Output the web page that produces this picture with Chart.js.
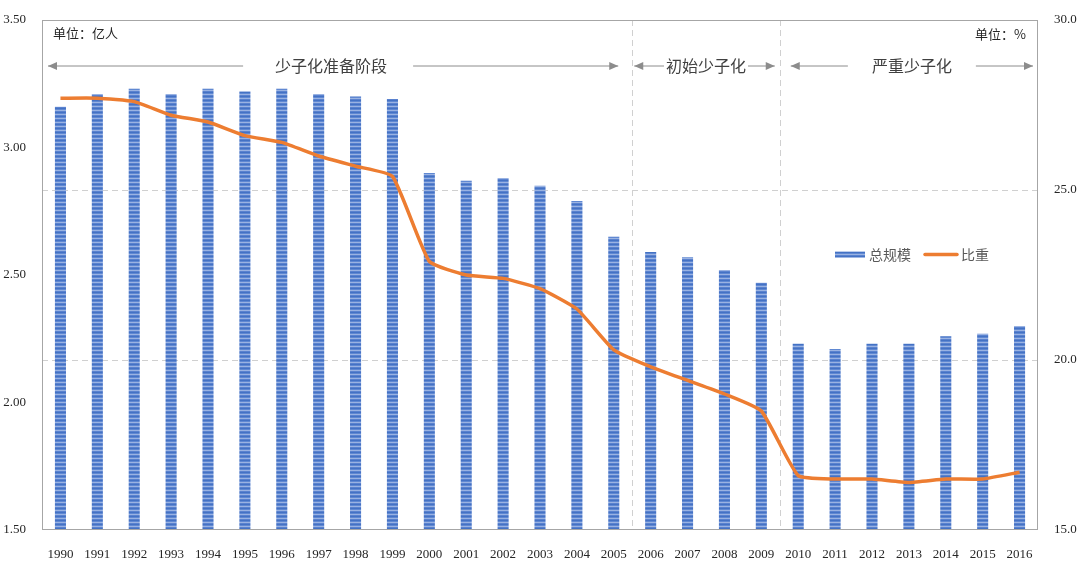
<!DOCTYPE html>
<html>
<head>
<meta charset="utf-8">
<script src="https://cdn.jsdelivr.net/npm/chart.js@4"></script>
<style>
  html, body { margin: 0; padding: 0; background: #fff; }
  #wrap { width: 1080px; height: 580px; }
</style>
</head>
<body>
<div id="wrap"><canvas id="chart" width="1080" height="580"></canvas></div>
<script>
const years = ['1990','1991','1992','1993','1994','1995','1996','1997','1998','1999',
  '2000','2001','2002','2003','2004','2005','2006','2007','2008','2009',
  '2010','2011','2012','2013','2014','2015','2016'];
const totalScale = [3.16, 3.21, 3.23, 3.21, 3.23, 3.22, 3.23, 3.21, 3.20, 3.19,
  2.90, 2.87, 2.88, 2.85, 2.79, 2.65, 2.59, 2.57, 2.52, 2.47,
  2.23, 2.21, 2.23, 2.23, 2.26, 2.27, 2.30];
const share = [27.7, 27.7, 27.6, 27.2, 27.0, 26.6, 26.4, 26.0, 25.7, 25.4,
  22.9, 22.5, 22.4, 22.1, 21.5, 20.3, 19.8, 19.4, 19.0, 18.5,
  16.6, 16.5, 16.5, 16.4, 16.5, 16.5, 16.7];
const leftTicks = [1.5, 2.0, 2.5, 3.0, 3.5];
const rightTicks = [15, 20, 25, 30];
// phase labels: [label, first year index, last year index]
const phases = [['少子化准备阶段', 0, 15], ['初始少子化', 16, 19], ['严重少子化', 20, 26]];

const serif = '"Liberation Serif", "DejaVu Serif", serif';
const cjk = '"Noto Sans CJK SC", "Noto Sans", sans-serif';

function stripePattern() {
    const c = document.createElement('canvas');
    c.width = 4; c.height = 4;
    const g = c.getContext('2d');
    const rows = ['#4472C4', '#6088d2', '#9ab3e2', '#5a82cf'];
    rows.forEach((col, i) => { g.fillStyle = col; g.fillRect(0, i, 4, 1); });
    return g.createPattern(c, 'repeat');
}

function arrow(ctx, x1, x2, y, headAt) {
    ctx.beginPath();
    ctx.moveTo(x1, y);
    ctx.lineTo(x2, y);
    ctx.stroke();
    const hx = headAt === 'left' ? x1 : x2;
    const d = headAt === 'left' ? 1 : -1;
    ctx.beginPath();
    ctx.moveTo(hx, y);
    ctx.lineTo(hx + d * 9, y - 4);
    ctx.lineTo(hx + d * 9, y + 4);
    ctx.closePath();
    ctx.fill();
}

const decorPlugin = {
    id: 'decor',
    beforeDatasetsDraw(chart) {
        const { ctx, chartArea: a, scales } = chart;
        ctx.save();
        // dashed grid lines from right axis
        ctx.strokeStyle = '#d0d0d0';
        ctx.lineWidth = 1;
        ctx.setLineDash([6, 4]);
        [20, 25].forEach(v => {
            const y = Math.round(scales.y2.getPixelForValue(v)) + 0.5;
            ctx.beginPath(); ctx.moveTo(a.left, y); ctx.lineTo(a.right, y); ctx.stroke();
        });
        // phase separators
        [15, 19].forEach(i => {
            const x = Math.round((scales.x.getPixelForValue(i) + scales.x.getPixelForValue(i + 1)) / 2) + 0.5;
            ctx.beginPath(); ctx.moveTo(x, a.top); ctx.lineTo(x, a.bottom); ctx.stroke();
        });
        ctx.restore();
    },
    afterDatasetsDraw(chart) {
        const { ctx, chartArea: a, scales } = chart;
        ctx.save();
        // plot box
        ctx.strokeStyle = '#a6a6a6';
        ctx.lineWidth = 1;
        ctx.strokeRect(a.left + 0.5, a.top + 0.5, a.right - a.left - 1, a.bottom - a.top - 1);

        // unit labels
        ctx.fillStyle = '#262626';
        ctx.font = '13px ' + cjk;
        ctx.textBaseline = 'middle';
        ctx.textAlign = 'left';
        ctx.fillText('单位：亿人', a.left + 11, a.top + 13);
        ctx.textAlign = 'right';
        ctx.fillText('单位：%', a.right - 12, a.top + 14);

        // phase labels with arrows
        const edge = i => (scales.x.getPixelForValue(i) + scales.x.getPixelForValue(i + 1)) / 2;
        const bounds = [a.left, edge(15), edge(19), a.right];
        const gaps = [[6, 14, 32, 26], [2, 5, 2, 2], [11, 5, 24, 24]];
        const ay = a.top + 46;
        ctx.font = '16px ' + cjk;
        ctx.textAlign = 'center';
        phases.forEach((p, k) => {
            const l = bounds[k], r = bounds[k + 1];
            const cx = (l + r) / 2 + (k === 0 ? -6 : k === 2 ? 3 : 0);
            const w = ctx.measureText(p[0]).width;
            ctx.fillStyle = '#404040';
            ctx.fillText(p[0], cx, ay);
            ctx.strokeStyle = '#8c8c8c';
            ctx.fillStyle = '#8c8c8c';
            ctx.lineWidth = 1;
            const g = gaps[k];
            arrow(ctx, l + g[0], cx - w / 2 - g[2], ay, 'left');
            arrow(ctx, cx + w / 2 + g[3], r - g[1], ay, 'right');
        });

        // legend
        const ly = scales.y2.getPixelForValue(23.1);
        const lx = a.left + 793;
        ctx.fillStyle = stripePattern();
        ctx.fillRect(lx, ly - 3, 30, 6);
        ctx.font = '14px ' + cjk;
        ctx.textAlign = 'left';
        ctx.fillStyle = '#595959';
        ctx.fillText('总规模', lx + 34, ly);
        ctx.strokeStyle = '#ED7D31';
        ctx.lineWidth = 3.5;
        ctx.lineCap = 'round';
        ctx.beginPath(); ctx.moveTo(lx + 90, ly); ctx.lineTo(lx + 122, ly); ctx.stroke();
        ctx.fillText('比重', lx + 126, ly);
        ctx.restore();
    }
};

const ctx = document.getElementById('chart').getContext('2d');
new Chart(ctx, {
    type: 'bar',
    data: {
        labels: years,
        datasets: [{
            type: 'line',
            label: '比重',
            data: share,
            yAxisID: 'y2',
            borderColor: '#ED7D31',
            borderWidth: 3.5,
            pointRadius: 0,
            tension: 0.15,
            order: 0
        }, {
            label: '总规模',
            data: totalScale,
            yAxisID: 'y',
            backgroundColor: stripePattern(),
            barPercentage: 0.3,
            categoryPercentage: 1,
            order: 1
        }]
    },
    plugins: [decorPlugin],
    options: {
        responsive: false,
        animation: false,
        layout: { padding: { top: 20, left: 0, right: 0, bottom: 0 } },
        plugins: { legend: { display: false }, tooltip: { enabled: false } },
        scales: {
            x: {
                offset: true,
                grid: { display: false },
                border: { display: false },
                ticks: { color: '#262626', font: { family: serif, size: 13 }, padding: 9, maxRotation: 0, autoSkip: false },
                afterFit: s => { s.height = 50; }
            },
            y: {
                position: 'left',
                min: 1.5, max: 3.5,
                grid: { display: false },
                border: { display: false },
                afterBuildTicks: s => { s.ticks = leftTicks.map(v => ({ value: v })); },
                ticks: { color: '#262626', font: { family: serif, size: 13 }, padding: 8, callback: v => v.toFixed(2) },
                afterFit: s => { s.width = 42; }
            },
            y2: {
                position: 'right',
                min: 15, max: 30,
                grid: { display: false },
                border: { display: false },
                afterBuildTicks: s => { s.ticks = rightTicks.map(v => ({ value: v })); },
                ticks: { color: '#262626', font: { family: serif, size: 13 }, padding: 8, callback: v => v.toFixed(1) },
                afterFit: s => { s.width = 42; }
            }
        }
    }
});
</script>
</body>
</html>
